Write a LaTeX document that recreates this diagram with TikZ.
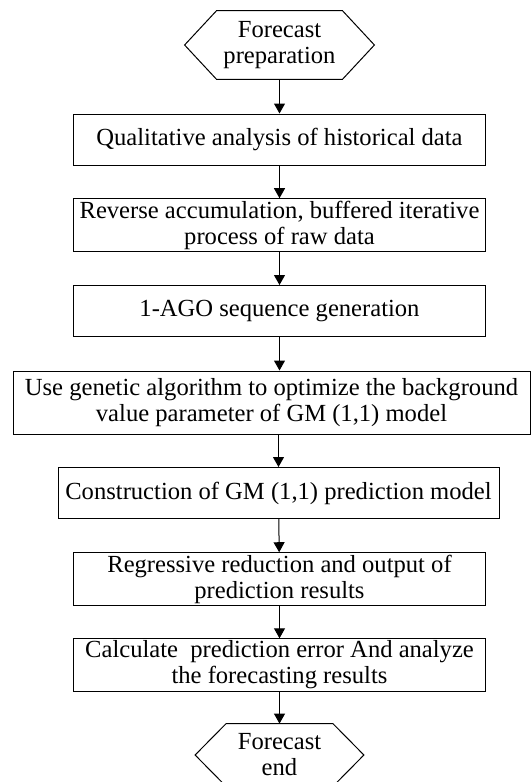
\documentclass[tikz,border=0pt]{standalone}
\usepackage{fontspec}
\setmainfont{Liberation Serif}
\usetikzlibrary{arrows.meta}

\begin{document}
\begin{tikzpicture}[x=0.5pt,y=-0.5pt,
    proc/.style={draw,line width=0.5pt,minimum width=206pt,minimum height=25.5pt,
      inner sep=1pt,align=center,font=\fontsize{12.3}{13}\selectfont},
    term/.style={minimum width=#1,minimum height=34pt,inner sep=0pt,
      align=center,font=\fontsize{12.3}{13}\selectfont},
    flow/.style={line width=0.5pt,-{Triangle[width=5.5pt,length=5pt]}}]
  \useasboundingbox (0,0) rectangle (531,782);

  \node[term=62.5pt] (start) at (279.5,45) {Forecast\\preparation};
  \node[proc] (qual) at (279.5,139.5) {Qualitative analysis of historical data};
  \node[proc] (rev) at (279.5,225) {Reverse accumulation, buffered iterative\\process of raw data};
  \node[proc] (ago) at (279.5,311) {1-AGO sequence generation};
  \node[proc,minimum width=258.5pt,minimum height=31.5pt] (ga) at (271.5,402.5)
    {Use genetic algorithm to optimize the background\\value parameter of GM (1,1) model};
  \node[proc,minimum width=220.5pt] (gm) at (278.5,493) {Construction of GM (1,1) prediction model};
  \node[proc] (reg) at (279.5,579) {Regressive reduction and output of\\prediction results};
  \node[proc] (err) at (279.5,665) {Calculate\ \ prediction error And analyze\\the forecasting results};
  \node[term=53pt,minimum height=31pt] (end) at (279.5,755) {Forecast\\end};

  \foreach \n/\s in {start/16pt,end/15.5pt}
  {
    \draw[line width=0.5pt] (\n.north west) -- (\n.north east) -- ([xshift=\s]\n.east)
      -- (\n.south east) -- (\n.south west) -- ([xshift=-\s]\n.west) -- cycle;
  }

  \draw[flow] (start) -- (qual);
  \draw[flow] (qual) -- (rev);
  \draw[flow] (rev) -- (ago);
  \draw[flow] (ago) -- (ago |- ga.north);
  \draw[flow] (ga.south -| gm) -- (gm);
  \draw[flow] (gm) -- (reg);
  \draw[flow] (reg) -- (err);
  \draw[flow] (err) -- (end);
\end{tikzpicture}
\end{document}
